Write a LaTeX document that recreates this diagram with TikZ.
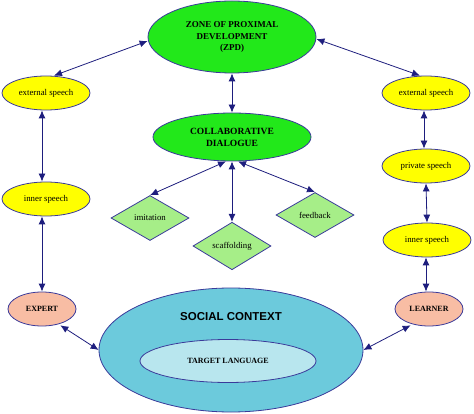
\documentclass[tikz,border=0pt]{standalone}
\usepackage{fontspec}
\setmainfont{Liberation Serif}
\newfontfamily\sansbold{Liberation Sans}
\usetikzlibrary{shapes.geometric,arrows.meta}
\definecolor{zpdgreen}{HTML}{22E81A}
\definecolor{yel}{HTML}{FFFF00}
\definecolor{lgreen}{HTML}{A6EE88}
\definecolor{salmon}{HTML}{F8BDA4}
\definecolor{social}{HTML}{6CCADC}
\definecolor{target}{HTML}{B8E6EE}
\definecolor{edge}{HTML}{3A3A9A}
\definecolor{arr}{HTML}{1E1E7E}
\tikzset{
  base/.style={draw=edge, line width=0.8pt, inner sep=0pt, align=center},
  ell/.style={base, ellipse},
  speech/.style={ell, fill=yel, minimum width=88pt, minimum height=34pt, font=\fontsize{8.8}{10}\selectfont},
  dia/.style={base, diamond, fill=lgreen, minimum width=78pt, minimum height=45pt, font=\fontsize{8.8}{10}\selectfont},
  role/.style={ell, fill=salmon, minimum width=68pt, minimum height=34pt, font=\bfseries\fontsize{8}{9}\selectfont},
  link/.style={arr, line width=0.8pt, {Latex[length=8pt,width=7pt]}-{Latex[length=8pt,width=7pt]}}
}
\begin{document}
\begin{tikzpicture}[x=1pt,y=-1pt]
\useasboundingbox (0,0) rectangle (474,414);
% nodes
\node[ell, fill=zpdgreen, minimum width=168pt, minimum height=72pt, font=\bfseries\fontsize{9}{11.5}\selectfont] (zpd) at (232,37) {ZONE OF PROXIMAL\\DEVELOPMENT\\(ZPD)};
\node[ell, fill=zpdgreen, minimum width=158pt, minimum height=48pt, font=\bfseries\fontsize{9.5}{12}\selectfont] (collab) at (232,137) {COLLABORATIVE\\DIALOGUE};
\node[speech] (lext) at (46,93) {external speech};
\node[speech] (linner) at (46,199) {inner speech};
\node[speech] (rext) at (426,93) {external speech};
\node[speech] (rpriv) at (426,166) {private speech};
\node[speech] (rinner) at (427,240) {inner speech};
\node[dia] (imit) at (150,218) {imitation};
\node[dia] (scaf) at (232,246) {scaffolding};
\node[dia] (feed) at (315,215) {feedback};
\node[role] (expert) at (42,309) {EXPERT};
\node[role] (learner) at (429,309) {LEARNER};
\node[ell, fill=social, minimum width=264pt, minimum height=124pt] (soc) at (231,350) {};
\node[font=\sansbold\bfseries\fontsize{11.5}{13}\selectfont] (soct) at (231,317) {SOCIAL CONTEXT};
\node[ell, fill=target, minimum width=176pt, minimum height=43pt, font=\bfseries\fontsize{8}{9}\selectfont] (tl) at (228,361) {TARGET LANGUAGE};
% anchor points
\path (zpd.west) ++(0,4) coordinate (z1);
\path (lext.north) ++(8,0) coordinate (l1);
\path (zpd.east) ++(0,2) coordinate (z2);
\path (rext.north) ++(-6,0) coordinate (r1);
\path (lext.south) ++(-4,0) coordinate (l2);
\path (linner.north) ++(-4,0) coordinate (l3);
\path (linner.south) ++(-4,0) coordinate (l4);
\path (expert.south east) ++(-6,4) coordinate (e1);
\path (learner.south west) ++(6,4) coordinate (e2);
\path (rext.south) ++(-2,0) coordinate (r2);
\path (rpriv.north) ++(-2,0) coordinate (r3);
\path (rinner.south) ++(-1,0) coordinate (r4);
\path (learner.north) ++(-3,0) coordinate (r5);
\path (collab.south) ++(-6,0) coordinate (c1);
\path (collab.south) ++(6,0) coordinate (c2);
% connectors
\draw[link] (z1) -- (l1);
\draw[link] (z2) -- (r1);
\draw[link] (zpd.south) -- (collab.north);
\draw[link] (l2) -- (l3);
\draw[link] (l4) -- (expert.north);
\draw[link] (e1) -- (soc.west);
\draw[link] (e2) -- (soc.east);
\draw[link] (r2) -- (r3);
\draw[link] (rpriv.south) -- (rinner.north);
\draw[link] (r4) -- (r5);
\draw[link] (c1) -- (imit.north);
\draw[link] (collab.south) -- (scaf.north);
\draw[link] (c2) -- (feed.north);
\end{tikzpicture}
\end{document}
